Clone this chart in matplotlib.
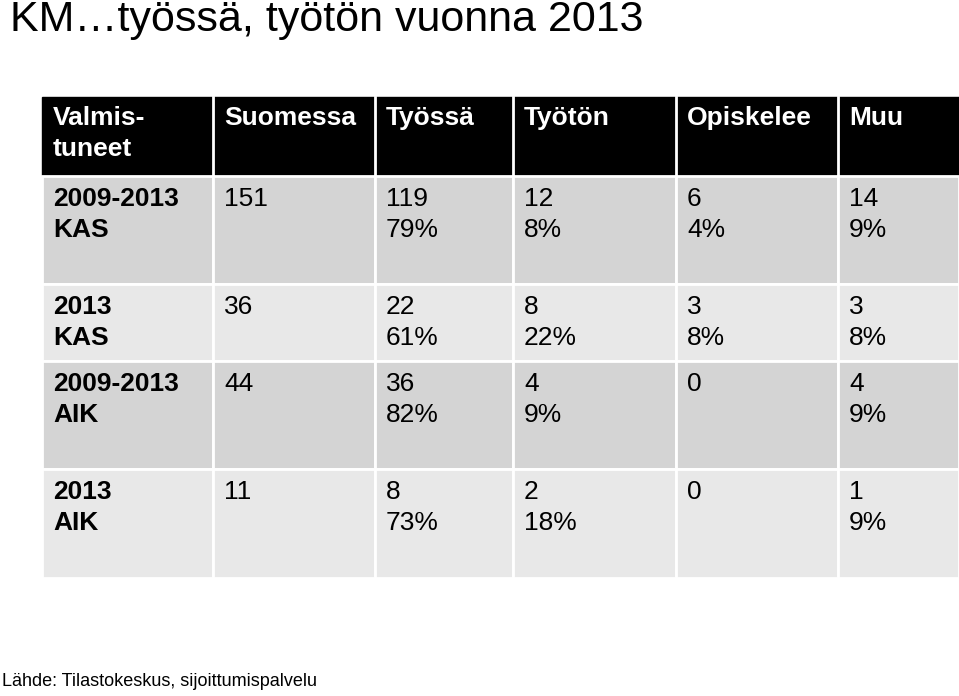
import matplotlib.pyplot as plt
from matplotlib.patches import Rectangle

# ---- data ----
title = "KM\u2026työssä, työtön vuonna 2013"
headers = ["Valmis-\ntuneet", "Suomessa", "Työssä", "Työtön", "Opiskelee", "Muu"]
row_labels = ["2009-2013\nKAS", "2013\nKAS", "2009-2013\nAIK", "2013\nAIK"]
suomessa = ["151", "36", "44", "11"]
tyossa = ["119\n79%", "22\n61%", "36\n82%", "8\n73%"]
tyoton = ["12\n8%", "8\n22%", "4\n9%", "2\n18%"]
opiskelee = ["6\n4%", "3\n8%", "0", "0"]
muu = ["14\n9%", "3\n8%", "4\n9%", "1\n9%"]
source = "Lähde: Tilastokeskus, sijoittumispalvelu"

# ---- layout (pixels) ----
col_edges = [42, 213, 375, 513, 676, 838, 959]
row_edges = [97, 176, 284, 361, 469, 578]
row_colors = ["#d4d4d4", "#e8e8e8", "#d4d4d4", "#e8e8e8"]
fs = 19

fig = plt.figure(figsize=(9.59, 6.96), dpi=100)
ax = fig.add_axes([0, 0, 1, 1])
ax.set_xlim(0, 959)
ax.set_ylim(696, 0)
ax.axis("off")

ax.text(10, 20, title, fontsize=31, family="Liberation Sans", va="center", ha="left")

# header
ax.add_patch(Rectangle((col_edges[0], row_edges[0]), col_edges[-1] - col_edges[0],
                       row_edges[1] - row_edges[0], color="black"))
for j, h in enumerate(headers):
    ax.text(col_edges[j] + 11, row_edges[0] + 9, h, color="white", fontsize=fs,
            fontweight="bold", family="Liberation Sans", va="top", linespacing=1.35)

columns = [row_labels, suomessa, tyossa, tyoton, opiskelee, muu]
for i in range(len(row_labels)):
    y0, y1 = row_edges[i + 1], row_edges[i + 2]
    for j in range(len(columns)):
        x0, x1 = col_edges[j], col_edges[j + 1]
        ax.add_patch(Rectangle((x0, y0), x1 - x0, y1 - y0, facecolor=row_colors[i],
                               edgecolor="white", linewidth=2))
        ax.text(x0 + 11, y0 + 11, columns[j][i], fontsize=fs, family="Liberation Sans",
                fontweight="bold" if j == 0 else "normal", va="top", linespacing=1.35)

# header separators
for x in col_edges[1:-1]:
    ax.plot([x, x], [row_edges[0], row_edges[1]], color="white", lw=2)

ax.text(2, 682, source, fontsize=13, family="Liberation Sans", va="center", ha="left")

fig.savefig("out.png", dpi=100)
